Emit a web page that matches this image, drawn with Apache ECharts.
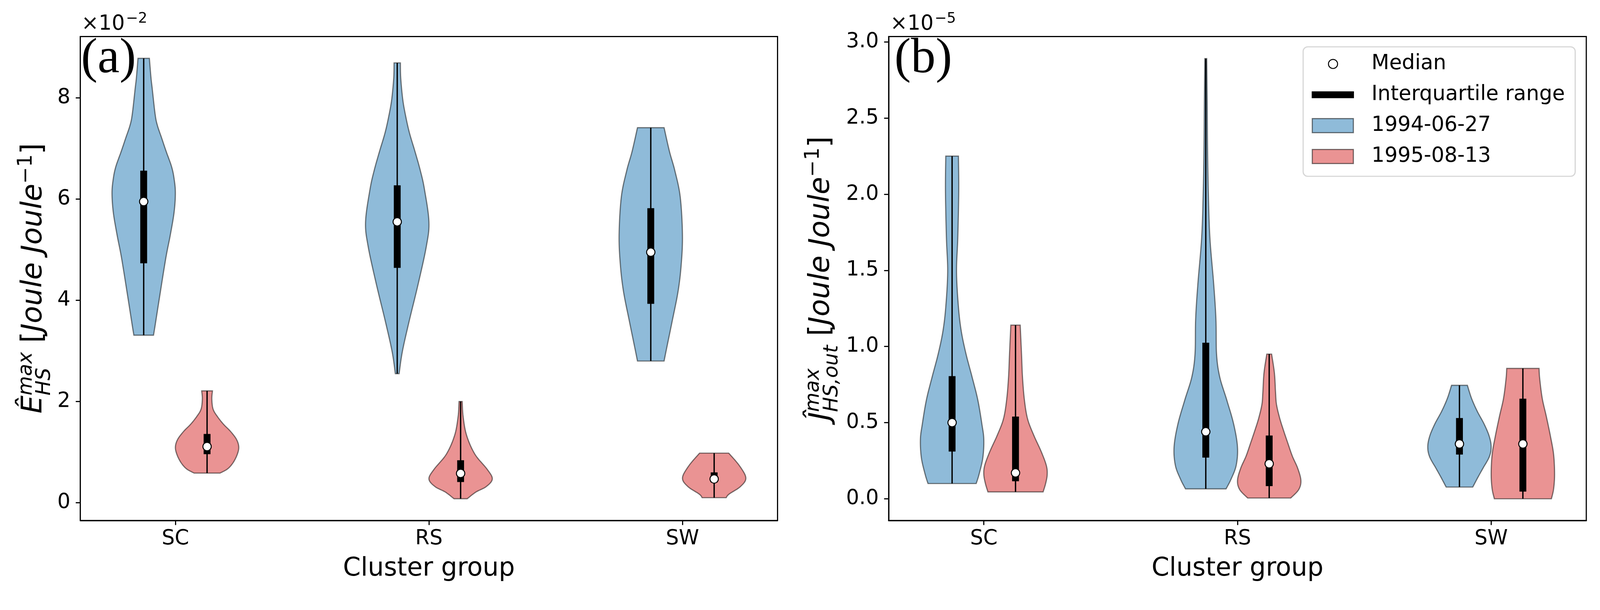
<!DOCTYPE html>
<html>
<head>
<meta charset="utf-8">
<script src="https://cdn.jsdelivr.net/npm/echarts@6/dist/echarts.min.js"></script>
<style>html,body{margin:0;padding:0;background:#fff;overflow:hidden}#chart{width:100vw;height:100vh}</style>
</head>
<body>
<div id="chart"></div>
<script>
// ---------------- DATA ----------------
const CATEGORIES = ['SC', 'RS', 'SW'];
const DATES = ['1994-06-27', '1995-08-13'];

// Panel (a): E_HS^max  (values in units of 1e-2)
const A_Y_TICKS = [0, 2, 4, 6, 8];
const A_1994_MIN = [3.31, 2.55, 2.80];
const A_1994_Q1 = [4.73, 4.64, 3.93];
const A_1994_MEDIAN = [5.95, 5.55, 4.95];
const A_1994_Q3 = [6.56, 6.27, 5.82];
const A_1994_MAX = [8.78, 8.69, 7.41];
const A_1995_MIN = [0.586, 0.08, 0.10];
const A_1995_Q1 = [0.96, 0.41, 0.40];
const A_1995_MEDIAN = [1.11, 0.58, 0.47];
const A_1995_Q3 = [1.36, 0.84, 0.60];
const A_1995_MAX = [2.21, 2.00, 0.98];

// Panel (b): J_HS,out^max  (values in units of 1e-5)
const B_Y_TICKS = [0, 0.5, 1.0, 1.5, 2.0, 2.5, 3.0];
const B_1994_MIN = [0.10, 0.065, 0.077];
const B_1994_Q1 = [0.31, 0.27, 0.29];
const B_1994_MEDIAN = [0.50, 0.44, 0.36];
const B_1994_Q3 = [0.805, 1.025, 0.53];
const B_1994_MAX = [2.25, 2.89, 0.745];
const B_1995_MIN = [0.045, 0.005, 0.0];
const B_1995_Q1 = [0.115, 0.083, 0.047];
const B_1995_MEDIAN = [0.17, 0.23, 0.36];
const B_1995_Q3 = [0.54, 0.415, 0.657];
const B_1995_MAX = [1.14, 0.95, 0.856];

// Violin outlines: [value, relative density width (1 = widest)], top to bottom
const A_1994_SC_SHAPE = [[8.78,0.18],[8.40,0.23],[8.18,0.27],[7.68,0.36],[7.46,0.43],[7.20,0.57],[6.94,0.71],[6.64,0.88],[6.40,0.96],[6.12,1.0],[5.74,0.96],[5.29,0.84],[4.84,0.70],[4.10,0.51],[3.50,0.36],[3.31,0.31]];
const A_1994_RS_SHAPE = [[8.69,0.10],[8.40,0.11],[7.99,0.17],[7.69,0.25],[7.32,0.38],[6.94,0.56],[6.56,0.73],[6.19,0.86],[5.55,1.0],[5.07,0.92],[4.32,0.66],[3.57,0.37],[2.98,0.16],[2.55,0.06]];
const A_1994_SW_SHAPE = [[7.41,0.42],[6.94,0.59],[6.56,0.76],[6.04,0.93],[5.29,1.0],[4.70,0.96],[4.17,0.86],[3.57,0.67],[3.05,0.50],[2.80,0.42]];
const A_1995_SC_SHAPE = [[2.21,0.17],[2.05,0.15],[1.85,0.19],[1.70,0.33],[1.55,0.52],[1.41,0.74],[1.25,0.93],[1.10,1.0],[0.95,0.95],[0.79,0.82],[0.67,0.65],[0.586,0.41]];
const A_1995_RS_SHAPE = [[2.00,0.05],[1.70,0.08],[1.33,0.19],[0.96,0.45],[0.66,0.84],[0.47,1.0],[0.32,0.81],[0.21,0.48],[0.08,0.21]];
const A_1995_SW_SHAPE = [[0.98,0.46],[0.73,0.80],[0.49,1.0],[0.32,0.83],[0.17,0.47],[0.10,0.38]];

const B_1994_SC_SHAPE = [[2.25,0.20],[2.02,0.21],[1.715,0.18],[1.49,0.14],[1.26,0.20],[1.10,0.29],[0.95,0.44],[0.80,0.63],[0.65,0.81],[0.49,0.94],[0.39,1.0],[0.27,0.97],[0.16,0.85],[0.10,0.76]];
const B_1994_RS_SHAPE = [[2.89,0.03],[2.60,0.045],[2.325,0.055],[2.02,0.08],[1.715,0.13],[1.41,0.25],[1.18,0.32],[0.95,0.34],[0.80,0.44],[0.65,0.66],[0.49,0.88],[0.34,1.0],[0.22,0.96],[0.13,0.80],[0.065,0.64]];
const B_1994_SW_SHAPE = [[0.745,0.25],[0.66,0.38],[0.575,0.56],[0.49,0.78],[0.41,0.94],[0.34,1.0],[0.275,0.94],[0.20,0.74],[0.14,0.58],[0.077,0.42]];
const B_1995_SC_SHAPE = [[1.14,0.148],[0.95,0.19],[0.80,0.22],[0.65,0.28],[0.525,0.38],[0.42,0.57],[0.31,0.81],[0.22,0.97],[0.16,1.0],[0.10,0.95],[0.045,0.87]];
const B_1995_RS_SHAPE = [[0.95,0.076],[0.825,0.165],[0.70,0.20],[0.62,0.23],[0.53,0.33],[0.45,0.45],[0.37,0.58],[0.28,0.73],[0.20,0.90],[0.12,1.0],[0.06,0.93],[0.005,0.68]];
const B_1995_SW_SHAPE = [[0.856,0.51],[0.79,0.53],[0.66,0.61],[0.54,0.74],[0.41,0.87],[0.29,0.97],[0.16,1.0],[0.065,0.97],[0.0,0.90]];

// ---------------- STYLE / LAYOUT ----------------
const dom = document.getElementById('chart');
const VW = dom.clientWidth || window.innerWidth;
const S = VW / 4204;
const X = v => v * S, Y = v => v * S, Z = v => v * S;

const FONT = 'DejaVu Sans';
const FILLS = ['#8fbbd9', '#ea9393'];
const EDGE = 'rgba(0,0,0,0.5)';
const OFFSET = [-0.125, 0.125];
const HALF = 0.125;

const PANELS = [
  { min: [A_1994_MIN, A_1995_MIN], q1: [A_1994_Q1, A_1995_Q1], med: [A_1994_MEDIAN, A_1995_MEDIAN],
    q3: [A_1994_Q3, A_1995_Q3], max: [A_1994_MAX, A_1995_MAX],
    shapes: [[A_1994_SC_SHAPE, A_1994_RS_SHAPE, A_1994_SW_SHAPE], [A_1995_SC_SHAPE, A_1995_RS_SHAPE, A_1995_SW_SHAPE]] },
  { min: [B_1994_MIN, B_1995_MIN], q1: [B_1994_Q1, B_1995_Q1], med: [B_1994_MEDIAN, B_1995_MEDIAN],
    q3: [B_1994_Q3, B_1995_Q3], max: [B_1994_MAX, B_1995_MAX],
    shapes: [[B_1994_SC_SHAPE, B_1994_RS_SHAPE, B_1994_SW_SHAPE], [B_1995_SC_SHAPE, B_1995_RS_SHAPE, B_1995_SW_SHAPE]] }
];

function catmull(pts, n) {
  if (pts.length < 3) return pts.slice();
  const out = [];
  for (let i = 0; i < pts.length - 1; i++) {
    const p0 = pts[Math.max(i - 1, 0)], p1 = pts[i], p2 = pts[i + 1], p3 = pts[Math.min(i + 2, pts.length - 1)];
    for (let k = 0; k < n; k++) {
      const t = k / n, t2 = t * t, t3 = t2 * t;
      const f = (a, b, c, d) => 0.5 * (2 * b + (-a + c) * t + (2 * a - 5 * b + 4 * c - d) * t2 + (-a + 3 * b - 3 * c + d) * t3);
      out.push([f(p0[0], p1[0], p2[0], p3[0]), f(p0[1], p1[1], p2[1], p3[1])]);
    }
  }
  out.push(pts[pts.length - 1]);
  return out;
}

function violinRenderer(shapes, fill) {
  return function (params, api) {
    const pos = api.value(0);
    const shape = shapes[params.dataIndex];
    const right = shape.map(p => api.coord([pos + p[1] * HALF, p[0]]));
    const left = shape.map(p => api.coord([pos - p[1] * HALF, p[0]])).reverse();
    const pts = catmull(right, 10).concat(catmull(left, 10));
    return { type: 'polygon', shape: { points: pts }, style: { fill: fill, stroke: EDGE, lineWidth: Z(3) } };
  };
}
function whiskerRenderer(params, api) {
  const a = api.coord([api.value(0), api.value(1)]);
  const b = api.coord([api.value(0), api.value(2)]);
  return { type: 'line', shape: { x1: a[0], y1: a[1], x2: b[0], y2: b[1] }, style: { stroke: '#000', lineWidth: Z(3.5) } };
}
function iqrRenderer(params, api) {
  const a = api.coord([api.value(0), api.value(1)]);
  const b = api.coord([api.value(0), api.value(2)]);
  const w = Z(18);
  return { type: 'rect', shape: { x: a[0] - w / 2, y: b[1], width: w, height: a[1] - b[1] }, style: { fill: '#000' } };
}

const series = [];
PANELS.forEach((P, pi) => {
  for (let d = 0; d < 2; d++) {
    series.push({
      type: 'custom', name: DATES[d], xAxisIndex: pi, yAxisIndex: pi, z: 2, silent: true,
      itemStyle: { color: FILLS[d] },
      encode: { x: 0, y: 1 },
      data: CATEGORIES.map((c, i) => [i + OFFSET[d], P.med[d][i]]),
      renderItem: violinRenderer(P.shapes[d], FILLS[d])
    });
  }
  for (let d = 0; d < 2; d++) {
    series.push({
      type: 'custom', name: 'whisker', xAxisIndex: pi, yAxisIndex: pi, z: 3, silent: true,
      encode: { x: 0, y: [1, 2] },
      data: CATEGORIES.map((c, i) => [i + OFFSET[d], P.min[d][i], P.max[d][i]]),
      renderItem: whiskerRenderer
    });
  }
  for (let d = 0; d < 2; d++) {
    series.push({
      type: 'custom', name: 'Interquartile range', xAxisIndex: pi, yAxisIndex: pi, z: 4, silent: true,
      itemStyle: { color: '#000' },
      encode: { x: 0, y: [1, 2] },
      data: CATEGORIES.map((c, i) => [i + OFFSET[d], P.q1[d][i], P.q3[d][i]]),
      renderItem: iqrRenderer
    });
  }
  series.push({
    type: 'scatter', name: 'Median', xAxisIndex: pi, yAxisIndex: pi, z: 5, silent: true,
    symbol: 'circle', symbolSize: Z(22),
    itemStyle: { color: '#fff', borderColor: '#000', borderWidth: Z(2.5), opacity: 1 },
    data: [0, 1].flatMap(d => CATEGORIES.map((c, i) => [i + OFFSET[d], P.med[d][i]]))
  });
});

function xAxisCfg(gi) {
  return {
    type: 'value', gridIndex: gi, min: -0.375, max: 2.375,
    axisLine: { show: true, onZero: false, lineStyle: { color: '#000', width: Z(3) } },
    axisTick: { show: true, customValues: [0, 1, 2], length: Z(12), lineStyle: { color: '#000', width: Z(3) } },
    axisLabel: { show: true, customValues: [0, 1, 2], formatter: v => CATEGORIES[Math.round(v)],
      fontSize: Z(54), color: '#000', fontFamily: FONT, margin: Y(21) },
    splitLine: { show: false },
    name: 'Cluster group', nameLocation: 'middle', nameGap: Y(94),
    nameTextStyle: { fontSize: Z(66.7), color: '#000', fontFamily: FONT }
  };
}
function yAxisCfg(gi, min, max, ticks, fmt) {
  return {
    type: 'value', gridIndex: gi, min: min, max: max,
    axisLine: { show: true, onZero: false, lineStyle: { color: '#000', width: Z(3) } },
    axisTick: { show: true, customValues: ticks, length: Z(12), lineStyle: { color: '#000', width: Z(3) } },
    axisLabel: { show: true, customValues: ticks, formatter: fmt, fontSize: Z(54), color: '#000', fontFamily: FONT, margin: X(26) },
    splitLine: { show: false }
  };
}

// ---- rotated math-style y labels ----
const mctx = document.createElement('canvas').getContext('2d');
function textW(t, size, italic) {
  mctx.font = (italic ? 'italic ' : '') + size + 'px "' + FONT + '"';
  return mctx.measureText(t).width;
}
function mathLabel(cx, cy, parts, F) {
  let x = 0;
  const els = [];
  parts.forEach(p => {
    const items = p.stack || [p];
    let adv = 0;
    items.forEach(q => {
      const size = F * (q.s || 1);
      els.push({ type: 'text', x: x, y: (q.dy || 0) * F, silent: true,
        style: { text: q.t, fontSize: size, fontFamily: FONT, fontStyle: q.it ? 'italic' : 'normal',
          fill: '#000', align: 'left', verticalAlign: 'middle' } });
      adv = Math.max(adv, textW(q.t, size, q.it));
    });
    x += adv;
  });
  els.forEach(e => { e.x -= x / 2; });
  return { type: 'group', x: cx, y: cy, rotation: Math.PI / 2, children: els };
}
const LABEL_F = Z(75);
const SUP = -0.266, SUB = 0.384;
const yLabelA = mathLabel(X(89), Y(731), [
  { t: 'Ê', it: true },
  { stack: [{ t: 'max', it: true, s: 0.7, dy: SUP }, { t: 'HS', it: true, s: 0.7, dy: SUB }] },
  { t: ' ' }, { t: '[' }, { t: 'Joule Joule', it: true }, { t: '−1', s: 0.7, dy: SUP }, { t: ']' }
], LABEL_F);
const yLabelB = mathLabel(X(2158), Y(731), [
  { t: 'Ĵ', it: true },
  { stack: [{ t: 'max', it: true, s: 0.7, dy: SUP }, { t: 'HS,out', it: true, s: 0.7, dy: SUB }] },
  { t: ' ' }, { t: '[' }, { t: 'Joule Joule', it: true }, { t: '−1', s: 0.7, dy: SUP }, { t: ']' }
], LABEL_F);

function offsetText(x, expo) {
  const w = textW('×10', Z(54), false);
  return [
    { type: 'text', x: X(x), y: Y(37), silent: true, style: { text: '×10', fontSize: Z(54), fontFamily: FONT, fill: '#000', align: 'left', verticalAlign: 'top' } },
    { type: 'text', x: X(x) + w + Z(3), y: Y(31), silent: true, style: { text: expo, fontSize: Z(38), fontFamily: FONT, fill: '#000', align: 'left', verticalAlign: 'top' } }
  ];
}
function panelTag(x, t) {
  return { type: 'text', x: X(x), y: Y(91), silent: true, z: 10,
    style: { text: t, fontSize: Z(130), fontFamily: 'Liberation Serif', fill: '#000', align: 'left', verticalAlign: 'top' } };
}

const option = {
  animation: false,
  backgroundColor: '#fff',
  grid: [
    { left: X(211), top: Y(96), width: X(1832), height: Y(1271), show: true, borderColor: '#000', borderWidth: Z(3), backgroundColor: 'transparent' },
    { left: X(2335), top: Y(96), width: X(1833), height: Y(1271), show: true, borderColor: '#000', borderWidth: Z(3), backgroundColor: 'transparent' }
  ],
  xAxis: [xAxisCfg(0), xAxisCfg(1)],
  yAxis: [
    yAxisCfg(0, -0.35, 9.21, A_Y_TICKS, v => String(Math.round(v))),
    yAxisCfg(1, -0.1425, 3.035, B_Y_TICKS, v => v.toFixed(1))
  ],
  legend: {
    orient: 'vertical', left: X(3424), top: Y(123),
    padding: [Y(15), X(27), Y(22), X(21)], itemGap: Y(21), itemWidth: Z(152), itemHeight: Z(40),
    backgroundColor: '#fff', borderColor: '#d6d6d6', borderWidth: Z(3), borderRadius: Z(12),
    selectedMode: false,
    textStyle: { fontSize: Z(54), color: '#000', fontFamily: FONT, lineHeight: Y(60) },
    data: [
      { name: 'Median', icon: 'path://M0,0M152,40M68,20A12,12,0,1,1,44,20A12,12,0,1,1,68,20Z',
        itemStyle: { color: '#fff', borderColor: '#000', borderWidth: Z(2.5) } },
      { name: 'Interquartile range', icon: 'path://M0,0M152,40M0,11H111V29H0Z',
        itemStyle: { color: '#000', borderWidth: 0 } },
      { name: DATES[0], icon: 'path://M0,0M152,40M1.5,1.5H109.5V38.5H1.5Z',
        itemStyle: { color: FILLS[0], borderColor: EDGE, borderWidth: Z(3) } },
      { name: DATES[1], icon: 'path://M0,0M152,40M1.5,1.5H109.5V38.5H1.5Z',
        itemStyle: { color: FILLS[1], borderColor: EDGE, borderWidth: Z(3) } }
    ]
  },
  graphic: [
    yLabelA, yLabelB,
    ...offsetText(214, '−2'), ...offsetText(2339, '−5'),
    panelTag(213, '(a)'), panelTag(2350, '(b)')
  ],
  series: series
};

const chart = echarts.init(dom, null, { renderer: 'canvas' });
chart.setOption(option);
window.addEventListener('resize', () => chart.resize());
</script>
</body>
</html>
